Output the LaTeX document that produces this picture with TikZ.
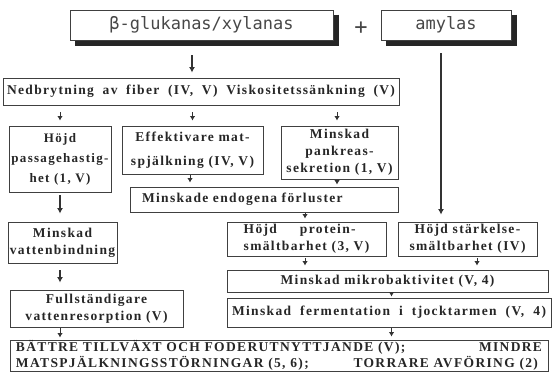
\documentclass[tikz,border=0pt]{standalone}
\usepackage{fontspec}
\setmainfont{Liberation Serif}
\newfontfamily\bodyfont[LetterSpace=10]{Liberation Serif}
\newfontfamily\topfont{DejaVu Sans Mono}
\usetikzlibrary{arrows.meta}
\begin{document}
\begin{tikzpicture}[x=1pt,y=-1pt,
  box/.style={draw=black!75, line width=0.9pt, inner sep=0pt, align=center,
    font=\bodyfont\bfseries\fontsize{13.5}{17}\selectfont, text=black!85},
  topbox/.style={draw=black!75, line width=0.9pt, inner sep=0pt,
    font=\topfont\fontsize{17}{20}\selectfont, text=black!72},
  shadowline/.style={draw=black!85, line width=5pt, line join=miter},
  arr/.style={draw=black!80, line width=1.3pt, -{Latex[length=5.5pt,width=6pt]}},
  sarr/.style={draw=black!80, line width=1pt, -{Latex[length=4.5pt,width=5.5pt]}}]
\useasboundingbox (0,0) rectangle (553,373);

% top row
\node[topbox, minimum width=263pt, minimum height=30pt] (glu) at (201.5,25) {β-glukanas/xylanas};
\node[topbox, minimum width=130pt, minimum height=30pt] (amy) at (446,25) {amylas};
\node[font=\topfont\fontsize{22}{24}\selectfont, text=black!72, inner sep=0pt] (plus) at (361,28) {+};

% shadows of the two top boxes (right and bottom sides)
\draw[shadowline] ([shift={(2.9pt,-5pt)}]glu.north east) -- ([shift={(2.9pt,-2.9pt)}]glu.south east)
  -- ([shift={(5pt,-2.9pt)}]glu.south west);
\draw[shadowline] ([shift={(2.9pt,-5pt)}]amy.north east) -- ([shift={(2.9pt,-2.9pt)}]amy.south east)
  -- ([shift={(5pt,-2.9pt)}]amy.south west);

% boxes
\node[box, minimum width=396pt, minimum height=27pt] (ned) at (201,91.5)
  {\makebox[388pt][s]{Nedbrytning av fiber (IV, V) Viskositetssänkning (V)}};
\node[box, minimum width=102pt, minimum height=66pt, font=\bodyfont\bfseries\fontsize{13}{20}\selectfont] (pass) at (60,159)
  {Höjd\\passagehastig-\\het (1, V)};
\node[box, minimum width=141pt, minimum height=48pt, font=\bodyfont\bfseries\fontsize{13.5}{24}\selectfont] (eff) at (192.5,150)
  {Effektivare mat-\\spjälkning (IV, V)};
\node[box, minimum width=117pt, minimum height=53pt] (pank) at (339.5,152.5)
  {Minskad\\pankreas-\\sekretion (1, V)};
\node[box, minimum width=268pt, minimum height=25pt, text width=244pt, align=left] (endo) at (264,199.5)
  {Minskade endogena förluster};
\node[box, minimum width=109pt, minimum height=41pt] (vatten) at (62.5,242.5)
  {Minskad\\vattenbindning};
\node[box, minimum width=173pt, minimum height=37pt] (full) at (96.5,308.5)
  {Fullständigare\\vattenresorption (V)};
\node[box, minimum width=159pt, minimum height=34pt, align=left] (prot) at (306.5,239)
  {\makebox[112pt][s]{Höjd protein-}\\smältbarhet (3, V)};
\node[box, minimum width=139pt, minimum height=34pt] (star) at (467.5,239)
  {Höjd stärkelse-\\smältbarhet (IV)};
\node[box, minimum width=321pt, minimum height=22pt] (mikro) at (387.5,281)
  {Minskad mikrobaktivitet (V, 4)};
\node[box, minimum width=324pt, minimum height=29pt] (ferm) at (389,312.5)
  {\makebox[314pt][s]{Minskad fermentation i tjocktarmen (V, 4)}};
\node[box, minimum width=538pt, minimum height=31pt, font=\bodyfont\bfseries\fontsize{13.5}{16}\selectfont] (final) at (279,355.5)
  {\makebox[526pt]{BÄTTRE TILLVÄXT OCH FODERUTNYTTJANDE (V);\hfill MINDRE}\\
   \makebox[526pt]{MATSPJÄLKNINGSSTÖRNINGAR (5, 6);\hfill TORRARE AVFÖRING (2)\hspace{4pt}}};

% connectors
\coordinate (g1) at ([xshift=-9.5pt]glu.south);
\draw[arr, shorten <=15pt, shorten >=5pt] (g1) -- (g1 |- ned.north);
\draw[sarr, shorten <=7pt, shorten >=5pt] (pass.north |- ned.south) -- (pass.north);
\draw[sarr, shorten <=7pt, shorten >=5pt] (eff.north |- ned.south) -- (eff.north);
\coordinate (p1) at ([xshift=-2.5pt]pank.north);
\draw[sarr, shorten <=7pt, shorten >=5pt] (p1 |- ned.south) -- (p1);
\coordinate (a1) at ([xshift=-5pt]amy.south);
\draw[arr, shorten <=13pt, shorten >=7pt] (a1) -- (a1 |- star.north);
\draw[arr, shorten <=3pt, shorten >=8pt] (pass.south) -- (pass.south |- vatten.north);
\coordinate (v1) at ([xshift=-2.5pt]vatten.south);
\draw[arr, shorten <=7pt, shorten >=7pt] (v1) -- (v1 |- full.north);
\draw[sarr, shorten <=1pt, shorten >=2pt] (v1 |- full.south) -- (v1 |- final.north);
\coordinate (e1) at ([xshift=-2.5pt]eff.south);
\draw[sarr, shorten <=1pt, shorten >=4pt] (e1) -- (e1 |- endo.north);
\draw[sarr, shorten <=1pt, shorten >=2pt] (p1 |- pank.south) -- (p1 |- endo.north);
\coordinate (r1) at ([xshift=-1.5pt]prot.north);
\draw[sarr, shorten <=1pt, shorten >=3pt] (r1 |- endo.south) -- (r1);
\draw[sarr, shorten <=2pt, shorten >=4pt] (r1 |- prot.south) -- (r1 |- mikro.north);
\coordinate (s1) at ([xshift=9.5pt]star.south);
\draw[sarr, shorten <=2pt, shorten >=4pt] (s1) -- (s1 |- mikro.north);
\coordinate (m1) at ([xshift=4pt]mikro.south);
\draw[sarr, shorten <=0pt, shorten >=1pt] (m1) -- (m1 |- ferm.north);
\draw[sarr, shorten <=1pt, shorten >=3pt] (m1 |- ferm.south) -- (m1 |- final.north);
\end{tikzpicture}
\end{document}
